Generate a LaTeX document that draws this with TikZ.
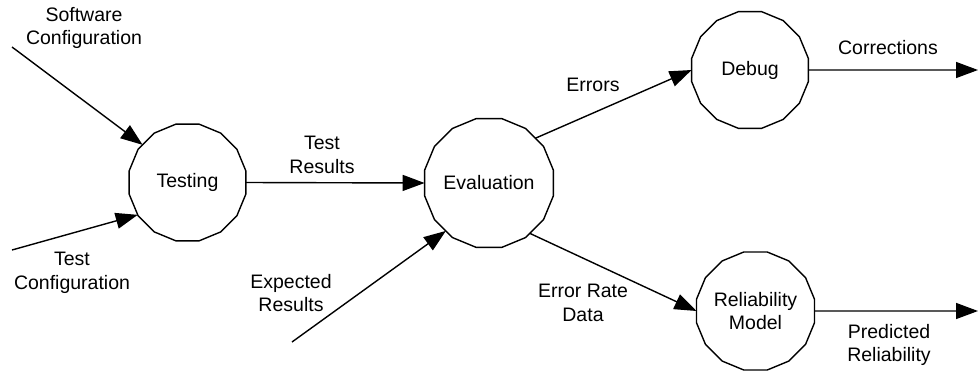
\documentclass[tikz,border=0pt]{standalone}
\usepackage{fontspec}
\setmainfont{Liberation Sans}
\usetikzlibrary{shapes.geometric,arrows.meta}
\begin{document}
\begin{tikzpicture}[x=1pt,y=-1pt,
  proc/.style={draw,line width=1.4pt,regular polygon,regular polygon sides=16,
    minimum size=119pt,inner sep=0pt,outer sep=0pt,align=center,
    font=\fontsize{19.5}{23.5}\selectfont},
  lbl/.style={align=center,inner sep=0pt,font=\fontsize{19.5}{23.5}\selectfont},
  flow/.style={line width=1.4pt,-{Triangle[length=22pt,width=16pt]}}]
\useasboundingbox (0,0) rectangle (978,370);
\node[proc] (test) at (187.5,182.5) {Testing};
\node[proc] (eval) at (489,183) {Evaluation};
\node[proc] (debug) at (750,70) {Debug};
\node[proc] (rel) at (755.5,311) {Reliability\\Model};
\coordinate (sw) at (12,47);
\coordinate (tc) at (12,250);
\coordinate (er) at (292,342);
\coordinate (corr) at (978,70);
\coordinate (pred) at (978,311);
\draw[flow] (sw) -- (test.140);
\draw[flow] (tc) -- (test.213);
\draw[flow] (test.east) -- (eval.west);
\draw[flow] (er) -- (eval.228);
\draw[flow] (eval.44) -- (debug.west);
\draw[flow] (eval.-51) -- (rel.west);
\draw[flow] (debug.east) -- (corr);
\draw[flow] (rel.east) -- (pred);
\node[lbl] (lsw) at (84,28) {Software\\Configuration};
\node[lbl] (ltc) at (72,273) {Test\\Configuration};
\node[lbl] (ltr) at (322,155) {Test\\Results};
\node[lbl] (ler) at (291,293) {Expected\\Results};
\node[lbl] (lerr) at (593,85) {Errors};
\node[lbl] (lerd) at (583,303) {Error Rate\\Data};
\node[lbl] (lcor) at (888,48) {Corrections};
\node[lbl] (lpr) at (889,345) {Predicted\\Reliability};
\end{tikzpicture}
\end{document}
